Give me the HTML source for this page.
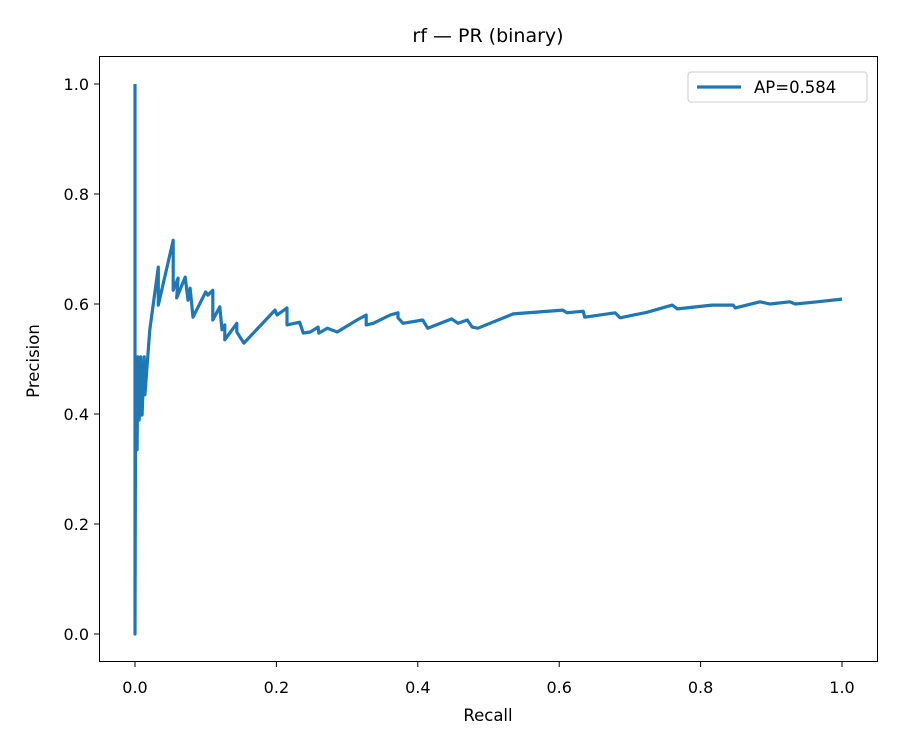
<!DOCTYPE html>
<html><head><meta charset="utf-8"><style>
body{margin:0;background:#fff;}
svg{display:block;font-family:"DejaVu Sans","Liberation Sans",sans-serif;}
</style></head><body>
<svg id="chart" width="900" height="750">
<rect width="900" height="750" fill="#fff"/>
<text x="488" y="42" text-anchor="middle" font-size="19">rf — PR (binary)</text>
<g id="xticks"></g>
<g id="yticks"></g>
<text x="488" y="721" text-anchor="middle" font-size="16.5">Recall</text>
<text transform="translate(39,361) rotate(-90)" text-anchor="middle" font-size="16.5">Precision</text>
<path id="curve" fill="none" stroke="#1f77b4" stroke-width="3.2" stroke-linejoin="round"/>
<rect x="99.5" y="56.5" width="778" height="605" fill="none" stroke="#000" stroke-width="1"/>
<g>
<rect x="688" y="72" width="179" height="30" rx="3" fill="#fff" stroke="#ccc"/>
<line x1="697" y1="87" x2="741" y2="87" stroke="#1f77b4" stroke-width="3.2"/>
<text x="754" y="93" font-size="16.5">AP=0.584</text>
</g>
</svg>
<script>
const recall=[0,0,.001,.003,.004,.006,.008,.010,.013,.014,.021,.033,.033,.054,.054,.061,.059,.071,.075,.078,.082,.100,.103,.110,.110,.120,.123,.127,.127,.144,.144,.154,.198,.201,.215,.215,.233,.238,.248,.259,.260,.272,.286,.314,.327,.327,.337,.361,.372,.372,.379,.407,.414,.448,.457,.470,.477,.485,.535,.605,.611,.634,.636,.679,.686,.724,.760,.767,.816,.846,.849,.884,.898,.926,.934,.965,1.0];
const precision=[1,0,.504,.335,.504,.389,.504,.398,.504,.435,.553,.667,.598,.716,.625,.647,.611,.649,.607,.629,.576,.622,.616,.625,.571,.595,.553,.562,.535,.565,.549,.529,.589,.580,.593,.562,.567,.547,.549,.558,.547,.556,.549,.571,.580,.562,.565,.580,.584,.575,.565,.571,.556,.573,.565,.571,.558,.556,.582,.589,.584,.587,.576,.584,.575,.585,.598,.591,.598,.598,.593,.604,.600,.604,.600,.604,.609];
const xTicks=[0,0.2,0.4,0.6,0.8,1.0];
const yTicks=[0,0.2,0.4,0.6,0.8,1.0];
const sx=v=>135+v*707, sy=v=>634-v*550;
const NS="http://www.w3.org/2000/svg";
let d="";
for(let i=0;i<recall.length;i++){d+=(i?"L":"M")+sx(recall[i]).toFixed(1)+","+sy(precision[i]).toFixed(1);}
document.getElementById("curve").setAttribute("d",d);
const xg=document.getElementById("xticks"), yg=document.getElementById("yticks");
xTicks.forEach(t=>{
  const l=document.createElementNS(NS,"line");
  l.setAttribute("x1",sx(t));l.setAttribute("x2",sx(t));l.setAttribute("y1",662);l.setAttribute("y2",667);l.setAttribute("stroke","#000");
  
  
  xg.appendChild(l);
  const tx=document.createElementNS(NS,"text");
  tx.setAttribute("x",sx(t));tx.setAttribute("y",693);tx.setAttribute("text-anchor","middle");tx.setAttribute("font-size","16");
  tx.textContent=t.toFixed(1);
  
  
  xg.appendChild(tx);
});
yTicks.forEach(t=>{
  const l=document.createElementNS(NS,"line");
  l.setAttribute("x1",94);l.setAttribute("x2",99);l.setAttribute("y1",sy(t));l.setAttribute("y2",sy(t));l.setAttribute("stroke","#000");
  
  
  yg.appendChild(l);
  const tx=document.createElementNS(NS,"text");
  tx.setAttribute("x",89);tx.setAttribute("y",sy(t)+6);tx.setAttribute("text-anchor","end");tx.setAttribute("font-size","16");
  tx.textContent=t.toFixed(1);
  
  
  yg.appendChild(tx);
});
</script>
</body></html>
